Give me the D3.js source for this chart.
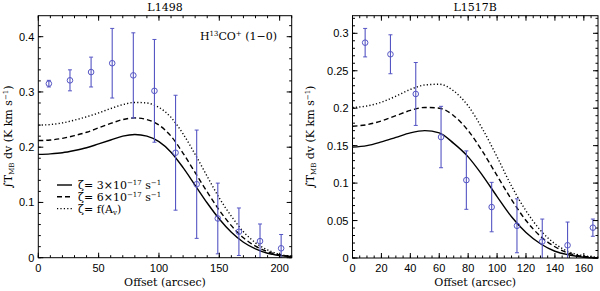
<!DOCTYPE html>
<html>
<head>
<meta charset="utf-8">
<script src="https://cdn.jsdelivr.net/npm/d3@7"></script>
<style>
body { margin: 0; background: #fff; }
text { fill: #000; }
</style>
</head>
<body>
<svg width="600" height="291"></svg>
<script>
// offsets of the observed positions (arcsec)
var offsets = [8.75, 26.25, 43.75, 61.25, 78.75, 96.25, 113.75, 131.25, 148.75, 166.25, 183.75, 201.25];

var l1498Obs = [0.315, 0.321, 0.336, 0.352, 0.330, 0.302, 0.190, 0.133, 0.071, 0.047, 0.030, 0.017];
var l1498Err = [0.006, 0.019, 0.027, 0.063, 0.077, 0.093, 0.104, 0.098, 0.064, 0.043, 0.031, 0.025];

var l1517Obs = [0.2875, 0.272, 0.219, 0.1615, 0.104, 0.068, 0.043, 0.022, 0.017, 0.0405];
var l1517Err = [0.019, 0.026, 0.042, 0.041, 0.039, 0.033, 0.036, 0.030, 0.031, 0.0115];

// model curves sampled every 10 arcsec
var l1498Grid = [0, 10, 20, 30, 40, 50, 60, 70, 80, 90, 100, 110, 120, 130, 140, 150, 160, 170, 180, 190, 200, 210];
var l1498Solid  = [.187, .188, .190, .194, .199, .206, .213, .220, .223, .220, .210, .191, .163, .131, .099, .070, .046, .028, .016, .008, .004, .002];
var l1498Dashed = [.212, .213, .216, .221, .227, .235, .243, .250, .253, .250, .240, .220, .189, .154, .119, .086, .058, .036, .021, .011, .005, .002];
var l1498Dotted = [.240, .241, .244, .249, .255, .262, .270, .277, .281, .280, .272, .254, .224, .187, .147, .108, .075, .047, .027, .014, .006, .003];

var l1517Grid = [0, 10, 20, 30, 40, 50, 60, 70, 80, 90, 100, 110, 120, 130, 140, 150, 160, 170];
var l1517Solid  = [.148, .150, .155, .161, .167, .170, .167, .153, .135, .110, .082, .055, .034, .019, .009, .004, .001, .000];
var l1517Dashed = [.176, .178, .183, .190, .197, .201, .200, .190, .170, .142, .110, .078, .050, .029, .015, .006, .002, .000];
var l1517Dotted = [.201, .203, .208, .216, .225, .231, .232, .223, .203, .172, .135, .096, .063, .037, .019, .008, .003, .001];

var legendLabels = ["3×10", "6×10", "f(A"];

var svg = d3.select("svg");
var blue = "#5555c4";
var tickFont = "Liberation Sans, Arial, sans-serif";
var textFont = "DejaVu Serif, serif";

function panel(o) {
    var g = svg.append("g");
    var x = d3.scaleLinear().domain(o.xd).range([o.left, o.right]);
    var y = d3.scaleLinear().domain(o.yd).range([o.bottom, o.top]);

    // curves
    var line = d3.line().x(d => x(d[0])).y(d => y(d[1])).curve(d3.curveMonotoneX);
    var styles = [[o.solid, null], [o.dashed, "5,3"], [o.dotted, "1.2,2.2"]];
    styles.forEach(function(s) {
        g.append("path")
            .attr("d", line(o.grid.map((v, i) => [v, s[0][i]])))
            .attr("fill", "none")
            .attr("stroke", "#000")
            .attr("stroke-width", 1.4)
            .attr("stroke-dasharray", s[1]);
    });

    // data with error bars
    var clipId = "clip" + o.name;
    g.append("clipPath").attr("id", clipId).append("rect")
        .attr("x", o.left).attr("y", o.top)
        .attr("width", o.right - o.left).attr("height", o.bottom - o.top);
    var pts = g.append("g").attr("clip-path", "url(#" + clipId + ")");
    o.obs.forEach(function(v, i) {
        var cx = x(offsets[i]);
        var lo = y(v - o.err[i]), hi = y(v + o.err[i]);
        pts.append("line").attr("x1", cx).attr("x2", cx).attr("y1", lo).attr("y2", hi)
            .attr("stroke", blue).attr("stroke-width", 1.1);
        [lo, hi].forEach(function(yy) {
            pts.append("line").attr("x1", cx - 2).attr("x2", cx + 2).attr("y1", yy).attr("y2", yy)
                .attr("stroke", blue).attr("stroke-width", 1);
        });
        pts.append("circle").attr("cx", cx).attr("cy", y(v)).attr("r", 2.8)
            .attr("fill", "none").attr("stroke", blue).attr("stroke-width", 1);
    });

    // frame
    g.append("rect").attr("x", o.left).attr("y", o.top)
        .attr("width", o.right - o.left).attr("height", o.bottom - o.top)
        .attr("fill", "none").attr("stroke", "#000").attr("stroke-width", 1);

    // ticks on all four sides, pointing inwards
    function ticks(vals, len, isX) {
        vals.forEach(function(v) {
            if (isX) {
                var px = x(v);
                g.append("line").attr("x1", px).attr("x2", px).attr("y1", o.bottom).attr("y2", o.bottom - len).attr("stroke", "#000");
                g.append("line").attr("x1", px).attr("x2", px).attr("y1", o.top).attr("y2", o.top + len).attr("stroke", "#000");
            } else {
                var py = y(v);
                g.append("line").attr("x1", o.left).attr("x2", o.left + len).attr("y1", py).attr("y2", py).attr("stroke", "#000");
                g.append("line").attr("x1", o.right).attr("x2", o.right - len).attr("y1", py).attr("y2", py).attr("stroke", "#000");
            }
        });
    }
    ticks(d3.range(0, o.xd[1] + 1e-9, o.xMinor), 2.5, true);
    ticks(o.xMajor, 5, true);
    ticks(d3.range(0, o.yd[1] + 1e-9, o.yMinor), 2.5, false);
    ticks(o.yMajor, 5, false);

    g.selectAll(".xl").data(o.xMajor).join("text")
        .attr("x", d => x(d)).attr("y", o.bottom + 14)
        .attr("text-anchor", "middle")
        .style("font", "11px " + tickFont)
        .text(d => d);
    g.selectAll(".yl").data(o.yMajor).join("text")
        .attr("x", o.left - 4).attr("y", d => y(d) + 4)
        .attr("text-anchor", "end")
        .style("font", "11px " + tickFont)
        .text(d => d);

    g.append("text").attr("x", (o.left + o.right) / 2).attr("y", 286)
        .attr("text-anchor", "middle").style("font", "11px " + textFont)
        .text("Offset (arcsec)");
    g.append("text").attr("x", (o.left + o.right) / 2).attr("y", 11)
        .attr("text-anchor", "middle").style("font", "11px " + textFont)
        .text(o.name);

    var yl = g.append("text")
        .attr("transform", "translate(" + o.ylabX + "," + ((o.top + o.bottom) / 2) + ") rotate(-90)")
        .attr("text-anchor", "middle").style("font", "11px " + textFont);
    yl.append("tspan").text("∫T");
    yl.append("tspan").attr("dy", 2).style("font-size", "7px").text("MB");
    yl.append("tspan").attr("dy", -2).text(" dv (K km s");
    yl.append("tspan").attr("dy", -4).style("font-size", "7px").text("−1");
    yl.append("tspan").attr("dy", 4).text(")");
    return { x: x, y: y, g: g };
}

var p1 = panel({
    name: "L1498", left: 38.3, right: 291.7, top: 15.7, bottom: 257.7,
    xd: [0, 210], yd: [0, 0.438],
    xMajor: [0, 50, 100, 150, 200], xMinor: 10,
    yMajor: [0, 0.1, 0.2, 0.3, 0.4], yMinor: 0.02,
    obs: l1498Obs, err: l1498Err,
    grid: l1498Grid, solid: l1498Solid, dashed: l1498Dashed, dotted: l1498Dotted,
    ylabX: 12
});

var p2 = panel({
    name: "L1517B", left: 352.5, right: 598, top: 15.7, bottom: 258,
    xd: [0, 169.8], yd: [0, 0.3235],
    xMajor: [0, 20, 40, 60, 80, 100, 120, 140, 160], xMinor: 5,
    yMajor: [0, 0.05, 0.1, 0.15, 0.2, 0.25, 0.3], yMinor: 0.01,
    obs: l1517Obs, err: l1517Err,
    grid: l1517Grid, solid: l1517Solid, dashed: l1517Dashed, dotted: l1517Dotted,
    ylabX: 314
});

// molecule label
var mol = p1.g.append("text").attr("x", 277).attr("y", 40)
    .attr("text-anchor", "end").style("font", "11px " + textFont);
mol.append("tspan").text("H");
mol.append("tspan").attr("dy", -4).style("font-size", "7px").text("13");
mol.append("tspan").attr("dy", 4).text("CO");
mol.append("tspan").attr("dy", -4).style("font-size", "7px").text("+");
mol.append("tspan").attr("dy", 4).text(" (1−0)");

// legend
var dashes = [null, "5,3", "1.2,2.2"];
legendLabels.forEach(function(lab, i) {
    var ly = 185 + i * 11.8;
    p1.g.append("line").attr("x1", 57).attr("x2", 72).attr("y1", ly).attr("y2", ly)
        .attr("stroke", "#000").attr("stroke-width", 1.4).attr("stroke-dasharray", dashes[i]);
    var t = p1.g.append("text").attr("x", 78).attr("y", ly + 4).style("font", "11px " + textFont);
    t.append("tspan").text("ζ= " + lab);
    if (i < 2) {
        t.append("tspan").attr("dy", -4).style("font-size", "7px").text("−17");
        t.append("tspan").attr("dy", 4).text(" s");
        t.append("tspan").attr("dy", -4).style("font-size", "7px").text("−1");
    } else {
        t.append("tspan").attr("dy", 2).style("font-size", "7px").text("v");
        t.append("tspan").attr("dy", -2).text(")");
    }
});
</script>
</body>
</html>
